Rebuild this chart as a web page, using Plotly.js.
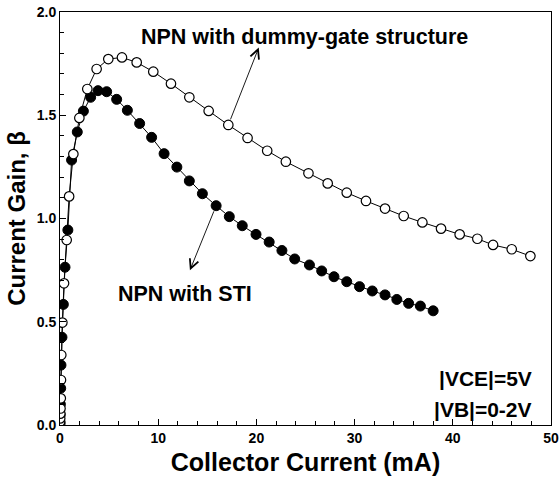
<!DOCTYPE html>
<html>
<head>
<meta charset="utf-8">
<script src="https://cdn.plot.ly/plotly-3.0.1.min.js"></script>
<style>html,body{margin:0;padding:0;background:#fff;}#chart{width:559px;height:482px;}</style>
</head>
<body>
<div id="chart"></div>
<script>
// Dummy-gate structure (open circles)
const dummyX = [0.0,0.01,0.02,0.03,0.05,0.08,0.1,0.13,0.24,0.41,0.68,0.93,1.36,1.97,2.78,3.73,4.92,6.31,7.81,9.5,11.3,13.17,15.14,17.14,19.1,21.1,23.0,25.3,27.26,29.2,31.16,33.1,35.0,36.9,38.8,40.7,42.5,44.1,46.0,47.9];
const dummyY = [0.005,0.016,0.032,0.055,0.08,0.129,0.218,0.339,0.496,0.686,0.896,1.107,1.312,1.487,1.627,1.724,1.772,1.780,1.756,1.711,1.653,1.587,1.521,1.453,1.39,1.328,1.275,1.219,1.17,1.125,1.085,1.048,1.012,0.981,0.951,0.923,0.902,0.872,0.851,0.818];
// STI (filled circles)
const stiX = [0.0,0.02,0.04,0.07,0.1,0.2,0.34,0.51,0.8,1.18,1.76,2.38,3.12,3.87,4.75,5.77,6.86,8.11,9.33,10.6,11.9,13.17,14.5,15.9,17.24,18.56,19.96,21.3,22.6,23.9,25.4,26.65,27.9,29.2,30.5,31.8,33.1,34.3,35.5,36.7,38.0];
const stiY = [0.01,0.05,0.1,0.178,0.29,0.425,0.584,0.764,0.944,1.283,1.419,1.52,1.587,1.619,1.614,1.577,1.524,1.46,1.393,1.314,1.249,1.182,1.12,1.062,1.009,0.965,0.923,0.886,0.845,0.804,0.775,0.746,0.718,0.694,0.67,0.649,0.63,0.608,0.589,0.576,0.553];

const xTickVals = [0,10,20,30,40,50];
const yTickVals = [0.0,0.5,1.0,1.5,2.0];

const FONT = 'Liberation Sans, Arial, sans-serif';

const traces = [
  {x: stiX, y: stiY, mode: 'lines+markers', name: 'NPN with STI',
   line: {color: '#000', width: 1},
   marker: {symbol: 'circle', size: 10, color: '#000', line: {color: '#000', width: 1}}},
  {x: dummyX, y: dummyY, mode: 'lines+markers', name: 'NPN with dummy-gate structure',
   line: {color: '#000', width: 1},
   marker: {symbol: 'circle', size: 9.5, color: '#fff', line: {color: '#000', width: 1.2}}}
];

const arrowStyle = {axref: 'x', ayref: 'y', xref: 'x', yref: 'y', showarrow: true, text: '',
  arrowside: 'start', startarrowhead: 5, startarrowsize: 2.0, arrowwidth: 0.9, arrowcolor: '#000',
  standoff: 6, startstandoff: 0};

const layout = {
  width: 559, height: 482,
  margin: {l: 60, r: 8, t: 12, b: 57},
  paper_bgcolor: '#fff', plot_bgcolor: '#fff',
  showlegend: false,
  font: {family: FONT, color: '#000'},
  xaxis: {
    range: [0, 50], tickvals: xTickVals, ticktext: xTickVals.map(String),
    ticks: 'inside', ticklen: 6, tickwidth: 1, tickcolor: '#000',
    minor: {dtick: 2, ticks: 'inside', ticklen: 4, tickcolor: '#000'},
    showline: true, linecolor: '#000', linewidth: 1, mirror: true,
    showgrid: false, zeroline: false,
    tickfont: {family: FONT, size: 14, weight: 'bold'},
    title: {text: '<b>Collector Current (mA)</b>', font: {family: FONT, size: 25}, standoff: 8}
  },
  yaxis: {
    range: [0, 2], tickvals: yTickVals, ticktext: yTickVals.map(v => v.toFixed(1)),
    ticks: 'inside', ticklen: 6, tickwidth: 1, tickcolor: '#000',
    minor: {dtick: 0.1, ticks: 'inside', ticklen: 4, tickcolor: '#000'},
    showline: true, linecolor: '#000', linewidth: 1, mirror: true,
    showgrid: false, zeroline: false,
    tickfont: {family: FONT, size: 14, weight: 'bold'},
    title: {text: '<b>Current Gain, β</b>', font: {family: FONT, size: 24}, standoff: 4}
  },
  annotations: [
    Object.assign({x: 17.14, y: 1.453, ax: 20.3, ay: 1.835}, arrowStyle),
    Object.assign({x: 15.9, y: 1.062, ax: 13.17, ay: 0.742}, arrowStyle),
    {x: 24.9, y: 1.88, xref: 'x', yref: 'y', text: '<b>NPN with dummy-gate structure</b>', showarrow: false,
     font: {family: FONT, size: 21.5, color: '#000'}},
    {x: 12.7, y: 0.635, xref: 'x', yref: 'y', text: '<b>NPN with STI</b>', showarrow: false,
     font: {family: FONT, size: 21.5, color: '#000'}},
    {x: 48.3, y: 0.223, xref: 'x', yref: 'y', xanchor: 'right', text: '<b>|VCE|=5V</b>', showarrow: false,
     font: {family: FONT, size: 21, color: '#000'}},
    {x: 48.3, y: 0.077, xref: 'x', yref: 'y', xanchor: 'right', text: '<b>|VB|=0-2V</b>', showarrow: false,
     font: {family: FONT, size: 21, color: '#000'}}
  ]
};

Plotly.newPlot('chart', traces, layout, {displayModeBar: false, staticPlot: true});
</script>
</body>
</html>
